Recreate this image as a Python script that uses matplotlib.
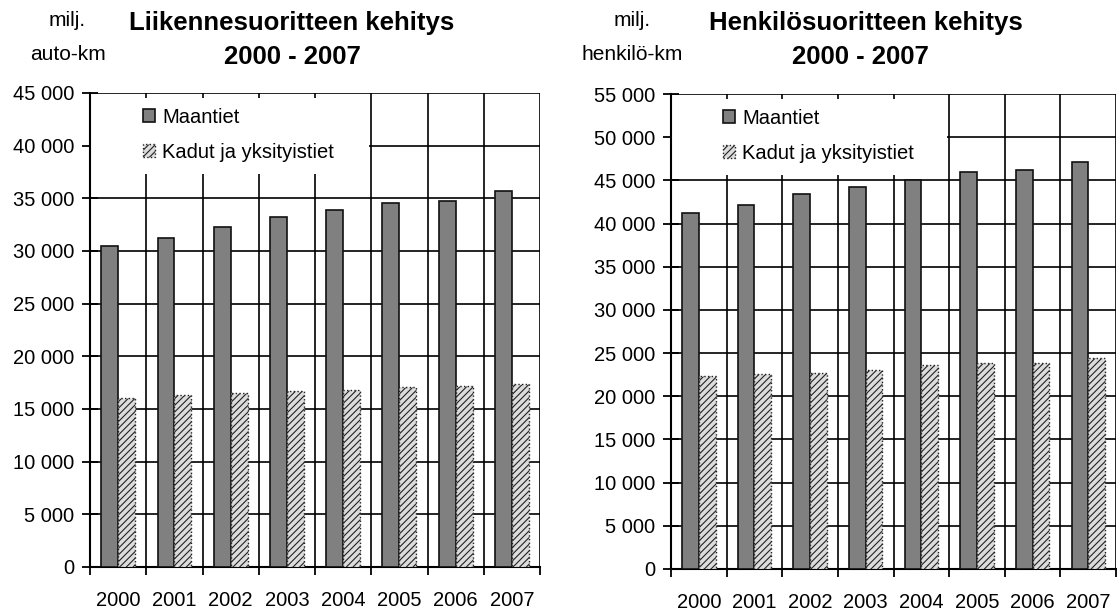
import matplotlib
matplotlib.use("Agg")
from matplotlib import pyplot as plt
import matplotlib.ticker as ticker
from matplotlib.patches import Rectangle
import numpy as np

plt.rcParams['font.family'] = ['Liberation Sans', 'DejaVu Sans']
plt.rcParams['hatch.linewidth'] = 0.8

# -------- data ----------
years = ['2000', '2001', '2002', '2003', '2004', '2005', '2006', '2007']
series_names = ['Maantiet', 'Kadut ja yksityistiet']

# liikennesuorite, milj. auto-km
auto_maantiet = [30500, 31200, 32250, 33200, 33900, 34600, 34750, 35700]
auto_kadut = [16000, 16300, 16550, 16700, 16850, 17100, 17200, 17400]

# henkilösuorite, milj. henkilö-km
henk_maantiet = [41200, 42150, 43400, 44250, 45050, 46000, 46200, 47100]
henk_kadut = [22350, 22550, 22750, 23000, 23600, 23850, 23800, 24400]

W, H = 1117, 616
fig = plt.figure(figsize=(W / 100, H / 100), dpi=100)

FS = 14.5


def space_fmt(v, pos):
    return f'{int(v):,}'.replace(',', ' ')


def draw(ax, maantiet, kadut, ymax):
    x = np.arange(len(years))
    ax.set_axisbelow(True)
    ax.bar(x - 0.15, maantiet, 0.3, color='#808080', edgecolor='#111111',
           linewidth=1.2, zorder=3, label=series_names[0])
    ax.bar(x + 0.15, kadut, 0.3, color='#dcdcdc', edgecolor='#222222',
           hatch='/////', linewidth=1.0, linestyle=':', zorder=3,
           label=series_names[1])
    ax.set_xlim(-0.5, len(years) - 0.5)
    ax.set_ylim(0, ymax)
    ax.yaxis.set_major_locator(ticker.MultipleLocator(5000))
    ax.yaxis.set_major_formatter(ticker.FuncFormatter(space_fmt))
    ax.set_xticks(x)
    ax.set_xticklabels(years)
    ax.set_xticks(np.arange(-0.5, len(years), 1), minor=True)
    ax.tick_params(axis='x', which='major', length=0, pad=17, labelsize=FS)
    ax.tick_params(axis='x', which='minor', length=6, width=1.3, direction='out')
    ax.tick_params(axis='y', length=11, width=1.3, direction='inout',
                   labelsize=FS, pad=6)
    ax.grid(True, axis='y', which='major', color='black', linewidth=1.2)
    ax.grid(True, axis='x', which='minor', color='black', linewidth=1.2)
    for s in ['top', 'right']:
        ax.spines[s].set_visible(False)
    for s in ['left', 'bottom']:
        ax.spines[s].set_linewidth(1.5)
    # white area behind the legend
    ax.add_patch(Rectangle((0, 0.83), 0.62, 0.16, transform=ax.transAxes,
                           facecolor='white', edgecolor='none', zorder=2))
    leg = ax.legend(loc='upper left', bbox_to_anchor=(0.095, 0.99),
                    frameon=False, fontsize=FS, handlelength=0.6,
                    handleheight=0.6, handletextpad=0.35, labelspacing=0.8,
                    borderaxespad=0.1)
    leg.set_zorder(6)


ax1 = fig.add_axes([90 / W, 49 / H, 450 / W, 474 / H])
draw(ax1, auto_maantiet, auto_kadut, 45000)

ax2 = fig.add_axes([671 / W, 47 / H, 445 / W, 475 / H])
draw(ax2, henk_maantiet, henk_kadut, 55000)

# titles and unit labels
title_kw = dict(ha='center', va='center', fontsize=18.5, fontweight='bold')
fig.text(292 / W, 1 - 23 / H, 'Liikennesuoritteen kehitys', **title_kw)
fig.text(292 / W, 1 - 57 / H, '2000 - 2007', **title_kw)
fig.text(866 / W, 1 - 23 / H, 'Henkilösuoritteen kehitys', **title_kw)
fig.text(860 / W, 1 - 57 / H, '2000 - 2007', **title_kw)

unit_kw = dict(ha='center', va='center', fontsize=15)
fig.text(67 / W, 1 - 20 / H, 'milj.', **unit_kw)
fig.text(68 / W, 1 - 54 / H, 'auto-km', **unit_kw)
fig.text(632 / W, 1 - 20 / H, 'milj.', **unit_kw)
fig.text(632 / W, 1 - 54 / H, 'henkilö-km', **unit_kw)

fig.savefig('out.png', dpi=100)
